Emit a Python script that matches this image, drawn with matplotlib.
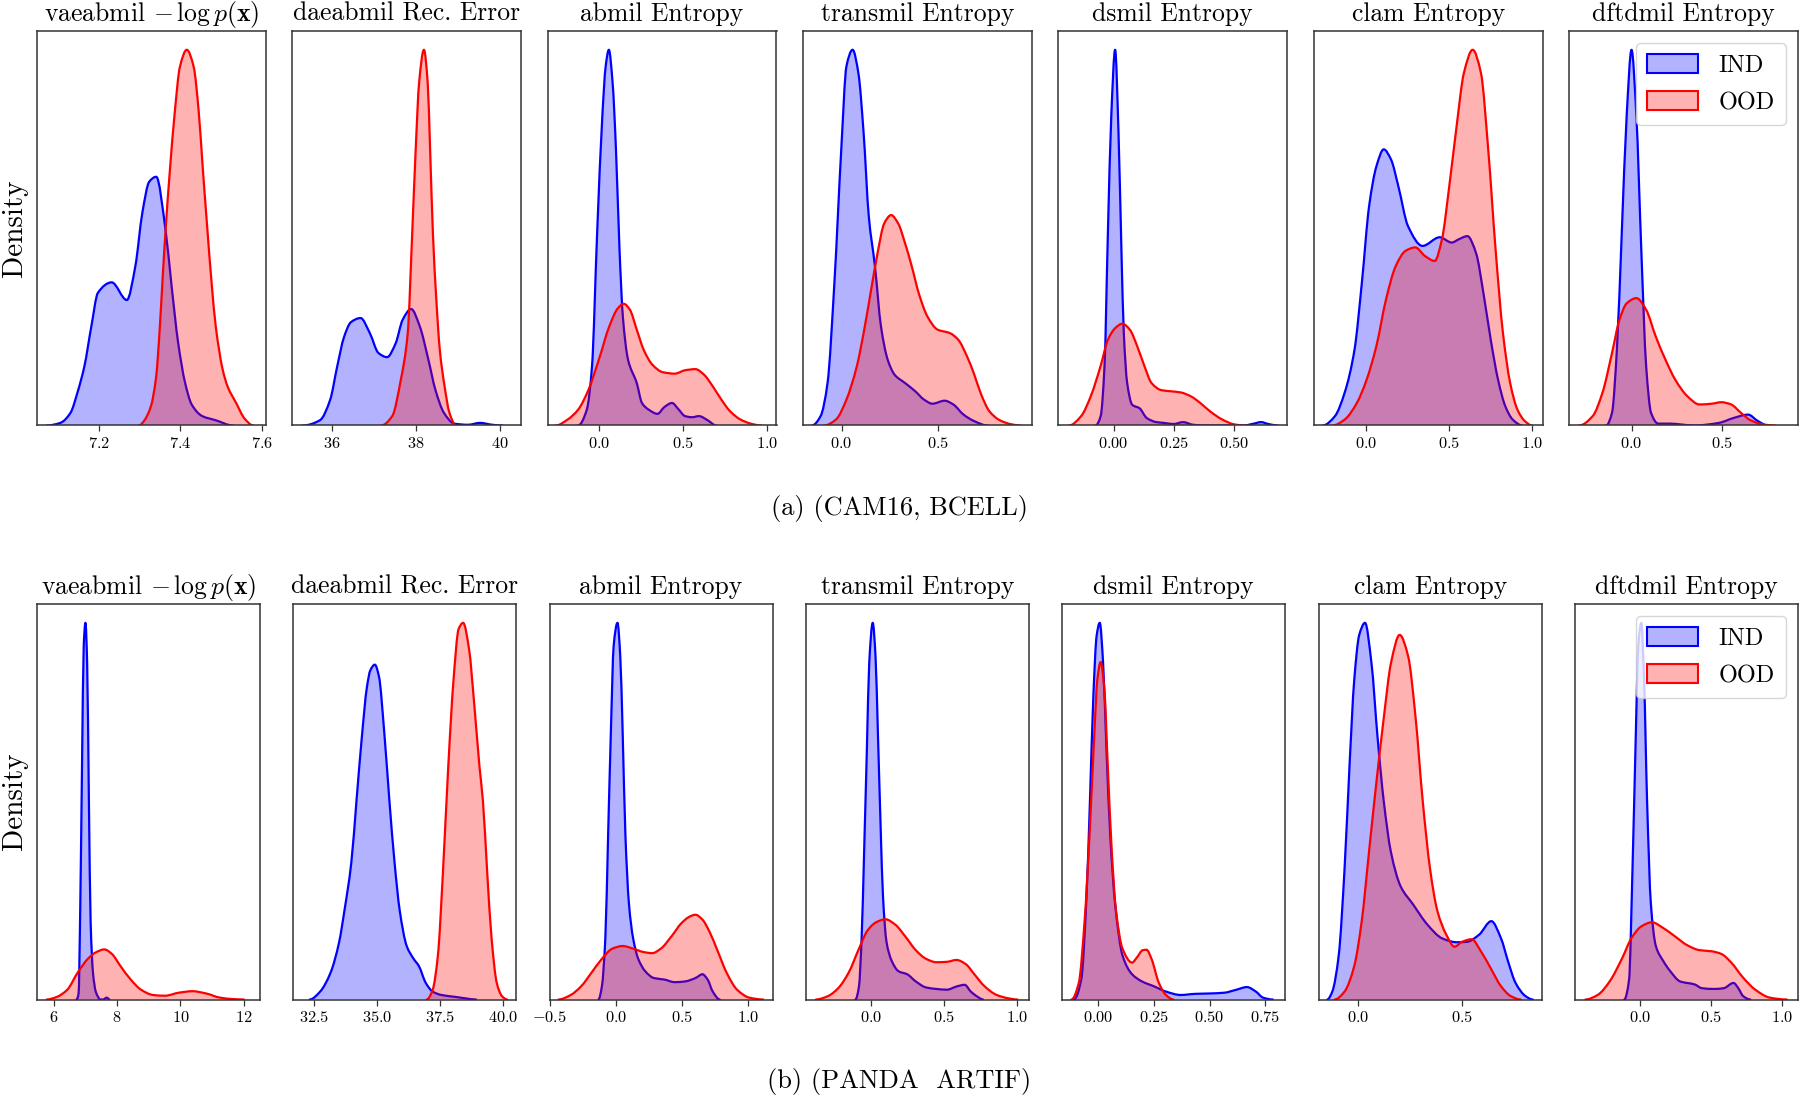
import numpy as np
import matplotlib
matplotlib.use("Agg")
import matplotlib.pyplot as plt
from matplotlib.path import Path
from matplotlib.patches import PathPatch, Patch

plt.rcParams['font.family'] = 'cmr10'
plt.rcParams['mathtext.fontset'] = 'cm'
plt.rcParams['axes.formatter.use_mathtext'] = True
plt.rcParams['axes.unicode_minus'] = True

# ---------------------------------------------------------------- text
TITLES = ["vaeabmil $-\\,\\log p(\\mathbf{x})$", "daeabmil Rec. Error", "abmil Entropy",
          "transmil Entropy", "dsmil Entropy", "clam Entropy", "dftdmil Entropy"]
CAPTIONS = ["(a) (CAM16, BCELL)", "(b) (PANDA  ARTIF)"]
LEGEND_LABELS = ["IND", "OOD"]

# ---------------------------------------------------------------- ticks / limits
CAM_TICKS = [[7.2, 7.4, 7.6], [36, 38, 40], [0.0, 0.5, 1.0], [0.0, 0.5],
             [0.00, 0.25, 0.50], [0.0, 0.5, 1.0], [0.0, 0.5]]
PANDA_TICKS = [[6, 8, 10, 12], [32.5, 35.0, 37.5, 40.0], [-0.5, 0.0, 0.5, 1.0],
               [0.0, 0.5, 1.0], [0.00, 0.25, 0.50, 0.75], [0.0, 0.5], [0.0, 0.5, 1.0]]
CAM_XLIM = [(7.048, 7.6095), (35.05, 40.51), (-0.311, 1.059), (-0.2007, 0.9865),
            (-0.2297, 0.720), (-0.316, 1.064), (-0.3455, 0.922)]
PANDA_XLIM = [(5.468, 12.50), (31.66, 40.52), (-0.5015, 1.186), (-0.4446, 1.0787),
              (-0.161, 0.839), (-0.1905, 0.885), (-0.46, 1.114)]

# ---------------------------------------------------------------- (a) CAM16 / BCELL densities (relative)
cam_vae_ind_x = [7.073, 7.106, 7.131, 7.148, 7.165, 7.182, 7.198, 7.232, 7.269, 7.290, 7.307,
                 7.324, 7.341, 7.364, 7.378, 7.395, 7.412, 7.428, 7.454, 7.487, 7.529]
cam_vae_ind_d = [0, 0.7, 3.4, 8.8, 15.8, 26.4, 35.3, 38.1, 33.4, 42.5, 56.6,
                 64.9, 66.2, 52.0, 37.9, 21.9, 11.3, 5.6, 2.5, 1.4, 0]
cam_vae_ood_x = [7.299, 7.311, 7.328, 7.341, 7.349, 7.357, 7.364, 7.374, 7.387, 7.399, 7.416,
                 7.433, 7.445, 7.455, 7.466, 7.477, 7.487, 7.504, 7.516, 7.537, 7.558, 7.579]
cam_vae_ood_d = [0, 1.2, 5.1, 13.1, 24.6, 39.6, 52.0, 67.1, 83.9, 95.4, 100,
                 95.4, 83.9, 68.8, 52.9, 37.8, 26.4, 14.9, 10.4, 6.0, 1.8, 0]

cam_dae_ind_x = [35.302, 35.713, 35.959, 36.123, 36.287, 36.452, 36.682, 36.903, 37.109, 37.314,
                 37.520, 37.684, 37.889, 38.094, 38.300, 38.464, 38.669, 38.916, 39.244, 39.532,
                 39.819, 40.066]
cam_dae_ind_d = [0, 1.4, 6.9, 15.6, 23.5, 27.5, 28.6, 24.6, 19.3, 18.2,
                 21.9, 28.1, 31.0, 26.4, 17.5, 9.6, 3.4, 0.5, 0.2, 0.7, 0.2, 0]
cam_dae_ood_x = [37.175, 37.437, 37.643, 37.807, 37.914, 37.996, 38.078, 38.193, 38.283, 38.341,
                 38.407, 38.489, 38.571, 38.686, 38.801, 38.957]
cam_dae_ood_d = [0, 2.5, 12.2, 24.6, 51.2, 73.3, 91.2, 100, 91.2, 73.3,
                 51.2, 33.5, 20.2, 10.4, 3.4, 0]

cam_abmil_ind_x = [-0.128, -0.076, -0.045, -0.014, 0.017, 0.037, 0.056, 0.079, 0.099, 0.120,
                   0.140, 0.171, 0.223, 0.254, 0.295, 0.347, 0.388, 0.434, 0.471, 0.512,
                   0.554, 0.595, 0.647, 0.698]
cam_abmil_ind_d = [0, 4.2, 15.6, 51.3, 82.3, 95.6, 100, 90.9, 73.1, 46.6,
                   28.9, 17.5, 11.3, 6.0, 4.2, 3.1, 4.9, 6.0, 4.4, 2.5,
                   2.2, 2.5, 1.4, 0]
cam_abmil_ood_x = [-0.262, -0.190, -0.128, -0.066, -0.004, 0.058, 0.110, 0.145, 0.182, 0.223,
                   0.264, 0.316, 0.378, 0.450, 0.512, 0.574, 0.626, 0.678, 0.729, 0.781,
                   0.843, 0.905, 0.967]
cam_abmil_ood_d = [0, 1.6, 4.2, 9.5, 17.5, 26.3, 31.2, 32.4, 30.8, 25.5,
                   20.2, 16.2, 14.2, 13.8, 14.7, 15.0, 13.5, 10.4, 6.9, 3.8,
                   1.6, 0.5, 0]

cam_transmil_ind_x = [-0.154, -0.109, -0.073, -0.0375, -0.002, 0.025, 0.057, 0.0875, 0.114, 0.141,
                      0.173, 0.204, 0.239, 0.275, 0.329, 0.382, 0.427, 0.471, 0.534, 0.579,
                      0.632, 0.686, 0.757]
cam_transmil_ind_d = [0, 2.5, 11.3, 37.9, 73.3, 95.6, 100, 93.6, 77.9, 55.6,
                      42.3, 26.4, 17.5, 13.5, 11.3, 9.1, 6.9, 5.8, 6.6, 5.6,
                      2.9, 1.2, 0]
cam_transmil_ood_x = [-0.091, -0.029, 0.025, 0.079, 0.114, 0.150, 0.186, 0.221, 0.257, 0.293,
                      0.329, 0.364, 0.400, 0.445, 0.498, 0.561, 0.605, 0.650, 0.686, 0.721,
                      0.766, 0.820, 0.882, 0.927]
cam_transmil_ood_d = [0, 1.6, 6.9, 15.8, 24.6, 35.2, 45.8, 53.8, 56.0, 53.8,
                      48.5, 42.3, 35.2, 29.0, 25.5, 24.6, 22.8, 18.4, 13.8, 8.6,
                      3.8, 1.4, 0.3, 0]

cam_dsmil_ind_x = [-0.075, -0.054, -0.038, -0.024, -0.010, 0.006, 0.020, 0.032, 0.042, 0.056,
                   0.077, 0.107, 0.137, 0.177, 0.208, 0.248, 0.288, 0.329, 0.379, 0.540,
                   0.581, 0.611, 0.641, 0.681]
cam_dsmil_ind_d = [0, 2.5, 15.9, 51.3, 82.3, 100, 77.9, 46.9, 24.6, 11.3,
                   5.5, 4.6, 2.0, 0.9, 0.7, 0.4, 0.9, 0.2, 0, 0,
                   0.5, 0.9, 0.4, 0]
cam_dsmil_ood_x = [-0.185, -0.135, -0.095, -0.054, -0.024, 0.006, 0.036, 0.067, 0.097, 0.127,
                   0.157, 0.198, 0.238, 0.278, 0.319, 0.359, 0.399, 0.450, 0.500, 0.540]
cam_dsmil_ood_d = [0, 2.5, 7.8, 15.9, 22.8, 25.9, 27.1, 25.5, 21.2, 15.9,
                   11.3, 9.4, 9.1, 8.8, 7.8, 6.0, 3.8, 1.6, 0.3, 0]

cam_clam_ind_x = [-0.261, -0.188, -0.129, -0.070, -0.026, 0.018, 0.062, 0.106, 0.150, 0.194,
                  0.252, 0.340, 0.443, 0.516, 0.560, 0.610, 0.663, 0.707, 0.751, 0.795,
                  0.839, 0.883, 0.941]
cam_clam_ind_d = [0, 2.5, 8.8, 20.2, 37.9, 58.4, 69.0, 73.5, 70.8, 63.7,
                  53.1, 47.8, 50.1, 48.7, 49.6, 50.4, 45.8, 35.2, 22.8, 12.2,
                  5.1, 1.6, 0]
cam_clam_ood_x = [-0.202, -0.129, -0.056, 0.003, 0.062, 0.120, 0.179, 0.238, 0.296, 0.355,
                  0.413, 0.457, 0.501, 0.545, 0.589, 0.642, 0.692, 0.736, 0.780, 0.824,
                  0.868, 0.912, 0.956, 1.000]
cam_clam_ood_d = [0, 1.6, 6.0, 12.2, 21.2, 33.6, 42.5, 46.5, 47.4, 45.1,
                  43.8, 49.6, 63.7, 79.6, 93.8, 100, 93.8, 73.3, 46.9, 24.8,
                  11.3, 4.2, 1.2, 0]

cam_dftdmil_ind_x = [-0.140, -0.108, -0.081, -0.054, -0.027, 0.000, 0.027, 0.054, 0.081, 0.108,
                     0.148, 0.215, 0.269, 0.349, 0.484, 0.565, 0.645, 0.699, 0.753]
cam_dftdmil_ind_d = [0, 3.4, 20.2, 51.3, 82.3, 100, 82.3, 46.9, 15.8, 3.4,
                     0.5, 0.5, 0.3, 0, 0.7, 2.0, 2.9, 1.2, 0]
cam_dftdmil_ood_x = [-0.290, -0.215, -0.161, -0.108, -0.067, -0.027, 0.027, 0.081, 0.134, 0.188,
                     0.242, 0.309, 0.376, 0.444, 0.497, 0.551, 0.605, 0.659, 0.726, 0.793]
cam_dftdmil_ood_d = [0, 2.5, 8.7, 19.3, 28.1, 32.5, 33.9, 30.8, 23.7, 17.5,
                     12.2, 7.8, 5.6, 5.8, 6.2, 5.6, 3.4, 1.4, 0.3, 0]

# ---------------------------------------------------------------- (b) PANDA / ARTIF densities (relative)
panda_vae_ind_x = [6.724, 6.789, 6.843, 6.897, 6.951, 7.005, 7.059, 7.114, 7.168, 7.243,
                   7.330, 7.405, 7.459, 7.568, 7.676, 7.762]
panda_vae_ind_d = [0, 1.6, 25.4, 61.9, 93.9, 100, 89.3, 52.8, 20.8, 7.1,
                   2.1, 0.7, 0, 0, 0.5, 0]
panda_vae_ood_x = [5.784, 6.108, 6.432, 6.757, 7.081, 7.351, 7.600, 7.838, 8.108, 8.432,
                   8.757, 9.135, 9.514, 9.946, 10.378, 10.811, 11.243, 11.676, 12.000]
panda_vae_ood_d = [0, 0.7, 2.6, 7.1, 10.8, 12.6, 13.3, 12.1, 8.9, 5.3,
                   2.6, 1.2, 1.0, 1.8, 2.2, 1.6, 0.5, 0.1, 0]

panda_dae_ind_x = [32.321, 32.734, 33.147, 33.491, 33.697, 33.972, 34.179, 34.385, 34.592, 34.729,
                   34.908, 35.073, 35.280, 35.486, 35.692, 35.899, 36.174, 36.449, 36.656, 36.931,
                   37.206, 37.550, 38.101, 38.513, 38.926]
panda_dae_ind_d = [0, 2.1, 7.1, 15.3, 23.5, 36.3, 52.8, 69.2, 82.9, 87.4,
                   88.9, 85.7, 71.1, 52.8, 36.3, 23.5, 14.2, 10.8, 8.9, 4.4,
                   2.1, 1.2, 0.7, 0.3, 0]
panda_dae_ood_x = [36.972, 37.206, 37.413, 37.619, 37.825, 38.032, 38.238, 38.417, 38.651, 38.857,
                   39.064, 39.201, 39.366, 39.545, 39.752, 39.958, 40.164]
panda_dae_ood_d = [0, 2.6, 11.7, 34.5, 61.9, 84.7, 98.4, 100, 93.0, 78.4,
                   61.9, 52.8, 34.5, 16.3, 4.4, 0.9, 0]

panda_abmil_ind_x = [-0.131, -0.105, -0.079, -0.058, -0.037, -0.016, 0.013, 0.034, 0.052, 0.073,
                     0.100, 0.131, 0.170, 0.223, 0.288, 0.367, 0.446, 0.525, 0.603, 0.656,
                     0.695, 0.734, 0.787]
panda_abmil_ind_d = [0, 3.5, 16.3, 43.6, 71.1, 93.9, 100, 91.1, 71.1, 43.6,
                     25.3, 16.3, 10.8, 7.5, 5.7, 5.3, 4.6, 4.8, 5.7, 6.7,
                     5.3, 2.1, 0]
panda_abmil_ood_x = [-0.433, -0.341, -0.262, -0.184, -0.105, -0.026, 0.052, 0.131, 0.210, 0.275,
                     0.341, 0.420, 0.498, 0.564, 0.603, 0.656, 0.708, 0.774, 0.839, 0.918,
                     1.010, 1.115]
panda_abmil_ood_d = [0, 1.2, 3.5, 7.1, 10.8, 13.5, 14.2, 13.5, 12.6, 12.3,
                     13.5, 16.7, 20.3, 22.1, 22.5, 21.2, 18.1, 12.6, 7.1, 2.6,
                     0.5, 0]

panda_transmil_ind_x = [-0.106, -0.082, -0.064, -0.047, -0.028, -0.012, 0.012, 0.031, 0.047, 0.066,
                        0.082, 0.106, 0.141, 0.188, 0.247, 0.306, 0.376, 0.447, 0.518, 0.588,
                        0.640, 0.682, 0.729, 0.765]
panda_transmil_ind_d = [0, 3.5, 16.3, 39.1, 66.5, 89.3, 100, 91.1, 71.1, 45.7,
                        27.4, 15.3, 10.3, 7.5, 6.7, 4.8, 3.2, 2.8, 2.6, 3.5,
                        3.9, 2.1, 0.7, 0]
panda_transmil_ood_x = [-0.376, -0.294, -0.224, -0.153, -0.082, -0.024, 0.035, 0.099, 0.165, 0.235,
                        0.306, 0.376, 0.447, 0.518, 0.584, 0.647, 0.706, 0.776, 0.859, 0.941,
                        1.000]
panda_transmil_ood_d = [0, 0.9, 3.0, 7.1, 13.5, 18.3, 20.5, 21.3, 19.9, 16.7,
                        13.1, 10.8, 9.9, 10.0, 10.5, 9.4, 6.7, 3.5, 1.2, 0.3,
                        0]

panda_dsmil_ind_x = [-0.109, -0.076, -0.054, -0.037, -0.022, -0.007, 0.007, 0.022, 0.037, 0.054,
                     0.076, 0.109, 0.152, 0.196, 0.250, 0.304, 0.370, 0.435, 0.500, 0.565,
                     0.620, 0.667, 0.707, 0.739, 0.783]
panda_dsmil_ind_d = [0, 5.3, 25.3, 52.8, 80.2, 96.6, 100, 89.3, 66.5, 43.6,
                     25.3, 11.7, 6.7, 4.8, 3.5, 2.1, 1.2, 1.5, 1.6, 1.8,
                     2.6, 3.3, 2.1, 0.5, 0]
panda_dsmil_ood_x = [-0.120, -0.087, -0.061, -0.039, -0.017, -0.004, 0.011, 0.028, 0.043, 0.061,
                     0.080, 0.109, 0.152, 0.174, 0.200, 0.217, 0.239, 0.272, 0.304, 0.337]
panda_dsmil_ood_d = [0, 4.4, 20.8, 43.6, 71.1, 84.9, 89.6, 82.0, 61.9, 39.1,
                     23.5, 13.5, 9.8, 11.2, 13.1, 13.2, 10.8, 4.4, 1.2, 0]

panda_clam_ind_x = [-0.149, -0.125, -0.094, -0.066, -0.042, -0.019, 0.005, 0.033, 0.064, 0.094,
                    0.123, 0.158, 0.205, 0.264, 0.335, 0.406, 0.476, 0.524, 0.583, 0.642,
                    0.689, 0.724, 0.759, 0.807, 0.842]
panda_clam_ind_d = [0, 2.1, 11.7, 34.5, 61.9, 84.9, 96.8, 100, 89.3, 69.2,
                    52.8, 39.1, 30.0, 25.3, 19.8, 16.2, 15.2, 15.3, 17.2, 20.8,
                    16.2, 9.9, 4.4, 0.9, 0]
panda_clam_ood_x = [-0.113, -0.066, -0.019, 0.017, 0.052, 0.087, 0.123, 0.158, 0.200, 0.241,
                    0.276, 0.311, 0.347, 0.382, 0.425, 0.465, 0.500, 0.547, 0.594, 0.642,
                    0.689, 0.736, 0.783]
panda_clam_ood_d = [0, 2.1, 8.9, 20.8, 39.1, 57.3, 74.6, 89.3, 96.8, 91.1,
                    75.3, 52.8, 34.5, 23.5, 17.2, 14.0, 15.3, 16.0, 12.6, 8.0,
                    3.5, 0.9, 0]

panda_dftdmil_ind_x = [-0.113, -0.079, -0.055, -0.034, -0.014, 0.007, 0.027, 0.048, 0.075, 0.110,
                       0.161, 0.212, 0.281, 0.384, 0.435, 0.521, 0.589, 0.658, 0.692, 0.726,
                       0.777]
panda_dftdmil_ind_d = [0, 5.3, 34.5, 66.5, 93.9, 100, 84.7, 52.8, 25.3, 14.2,
                       10.3, 7.5, 4.8, 4.0, 3.0, 2.8, 3.0, 4.4, 3.0, 0.9,
                       0]
panda_dftdmil_ood_x = [-0.387, -0.301, -0.216, -0.130, -0.062, 0.007, 0.082, 0.161, 0.247, 0.332,
                       0.418, 0.503, 0.572, 0.640, 0.726, 0.812, 0.914, 1.034]
panda_dftdmil_ood_d = [0, 1.2, 4.8, 10.8, 16.3, 19.4, 20.5, 19.0, 16.7, 14.4,
                       13.1, 12.8, 12.1, 9.9, 5.8, 2.6, 0.5, 0]

CAM_PANELS = [
    (cam_vae_ind_x, cam_vae_ind_d, cam_vae_ood_x, cam_vae_ood_d),
    (cam_dae_ind_x, cam_dae_ind_d, cam_dae_ood_x, cam_dae_ood_d),
    (cam_abmil_ind_x, cam_abmil_ind_d, cam_abmil_ood_x, cam_abmil_ood_d),
    (cam_transmil_ind_x, cam_transmil_ind_d, cam_transmil_ood_x, cam_transmil_ood_d),
    (cam_dsmil_ind_x, cam_dsmil_ind_d, cam_dsmil_ood_x, cam_dsmil_ood_d),
    (cam_clam_ind_x, cam_clam_ind_d, cam_clam_ood_x, cam_clam_ood_d),
    (cam_dftdmil_ind_x, cam_dftdmil_ind_d, cam_dftdmil_ood_x, cam_dftdmil_ood_d),
]
PANDA_PANELS = [
    (panda_vae_ind_x, panda_vae_ind_d, panda_vae_ood_x, panda_vae_ood_d),
    (panda_dae_ind_x, panda_dae_ind_d, panda_dae_ood_x, panda_dae_ood_d),
    (panda_abmil_ind_x, panda_abmil_ind_d, panda_abmil_ood_x, panda_abmil_ood_d),
    (panda_transmil_ind_x, panda_transmil_ind_d, panda_transmil_ood_x, panda_transmil_ood_d),
    (panda_dsmil_ind_x, panda_dsmil_ind_d, panda_dsmil_ood_x, panda_dsmil_ood_d),
    (panda_clam_ind_x, panda_clam_ind_d, panda_clam_ood_x, panda_clam_ood_d),
    (panda_dftdmil_ind_x, panda_dftdmil_ind_d, panda_dftdmil_ood_x, panda_dftdmil_ood_d),
]

IND_COLOR = "#0000ff"
OOD_COLOR = "#ff0000"


# ---------------------------------------------------------------- drawing helpers
def smooth_curve(xs, ys):
    """Monotone cubic (Fritsch-Carlson) Bezier path through the read points."""
    xs = np.asarray(xs, float)
    ys = np.asarray(ys, float)
    h = np.diff(xs)
    delta = np.diff(ys) / h
    n = len(xs)
    m = np.zeros(n)
    for k in range(1, n - 1):
        if delta[k - 1] * delta[k] > 0:
            w1 = 2 * h[k] + h[k - 1]
            w2 = h[k] + 2 * h[k - 1]
            m[k] = (w1 + w2) / (w1 / delta[k - 1] + w2 / delta[k])
    verts = [(xs[0], ys[0])]
    codes = [Path.MOVETO]
    for k in range(n - 1):
        verts += [(xs[k] + h[k] / 3, ys[k] + m[k] * h[k] / 3),
                  (xs[k + 1] - h[k] / 3, ys[k + 1] - m[k + 1] * h[k] / 3),
                  (xs[k + 1], ys[k + 1])]
        codes += [Path.CURVE4] * 3
    return verts, codes


def draw_density(ax, xs, ys, color):
    verts, codes = smooth_curve(xs, ys)
    fverts = verts + [(xs[-1], 0.0), (xs[0], 0.0), (xs[0], 0.0)]
    fcodes = codes + [Path.LINETO, Path.LINETO, Path.CLOSEPOLY]
    ax.add_patch(PathPatch(Path(fverts, fcodes), facecolor=color, alpha=0.3,
                           edgecolor="none", lw=0))
    ax.add_patch(PathPatch(Path(verts, codes), facecolor="none", edgecolor=color,
                           lw=1.6, joinstyle="round", capstyle="round"))


# ---------------------------------------------------------------- figure
W, H = 1800.0, 1099.0
fig = plt.figure(figsize=(18, 10.99), dpi=100)

ROW_SPECS = [
    # panels, ticks, xlims, top_px, bottom_px, first_left_px, step_px, width_px, caption_y_px
    (CAM_PANELS, CAM_TICKS, CAM_XLIM, 31.0, 425.5, 36.7, 255.4, 229.0, 508.6),
    (PANDA_PANELS, PANDA_TICKS, PANDA_XLIM, 604.0, 999.5, 36.7, 256.4, 223.0, 1081.5),
]

for r, (panels, ticks, xlims, top, bot, left0, step, width, cap_y) in enumerate(ROW_SPECS):
    for i, (ix, idd, ox, od) in enumerate(panels):
        ax = fig.add_axes([(left0 + i * step) / W, 1 - bot / H, width / W, (bot - top) / H])
        draw_density(ax, ix, idd, IND_COLOR)
        draw_density(ax, ox, od, OOD_COLOR)
        ymax = max(max(idd), max(od))
        ax.set_xlim(*xlims[i])
        ax.set_ylim(0, ymax * 1.05)
        ax.set_xticks(ticks[i])
        ax.set_yticks([])
        ax.tick_params(axis="x", labelsize=11.8, direction="out", length=4,
                       width=0.9, color="#333333", labelcolor="black", pad=3.5)
        for sp in ax.spines.values():
            sp.set_linewidth(1.1)
            sp.set_color("#333333")
        ax.set_title(TITLES[i], fontsize=18.5, pad=7.5)
        if i == 0:
            ax.set_ylabel("Density", fontsize=21, labelpad=6)
        if i == len(panels) - 1:
            handles = [Patch(facecolor=(0, 0, 1, 0.3), edgecolor=IND_COLOR, lw=1.5),
                       Patch(facecolor=(1, 0, 0, 0.3), edgecolor=OOD_COLOR, lw=1.5)]
            ax.legend(handles, LEGEND_LABELS, loc="upper right", fontsize=17.5,
                      handlelength=2.1, handleheight=0.8, handletextpad=0.85,
                      labelspacing=0.6, borderpad=0.45,
                      framealpha=0.8, edgecolor="0.8")
    fig.text(0.4995, 1 - cap_y / H, CAPTIONS[r], ha="center", va="center", fontsize=19)

fig.savefig("out.png", dpi=100)
